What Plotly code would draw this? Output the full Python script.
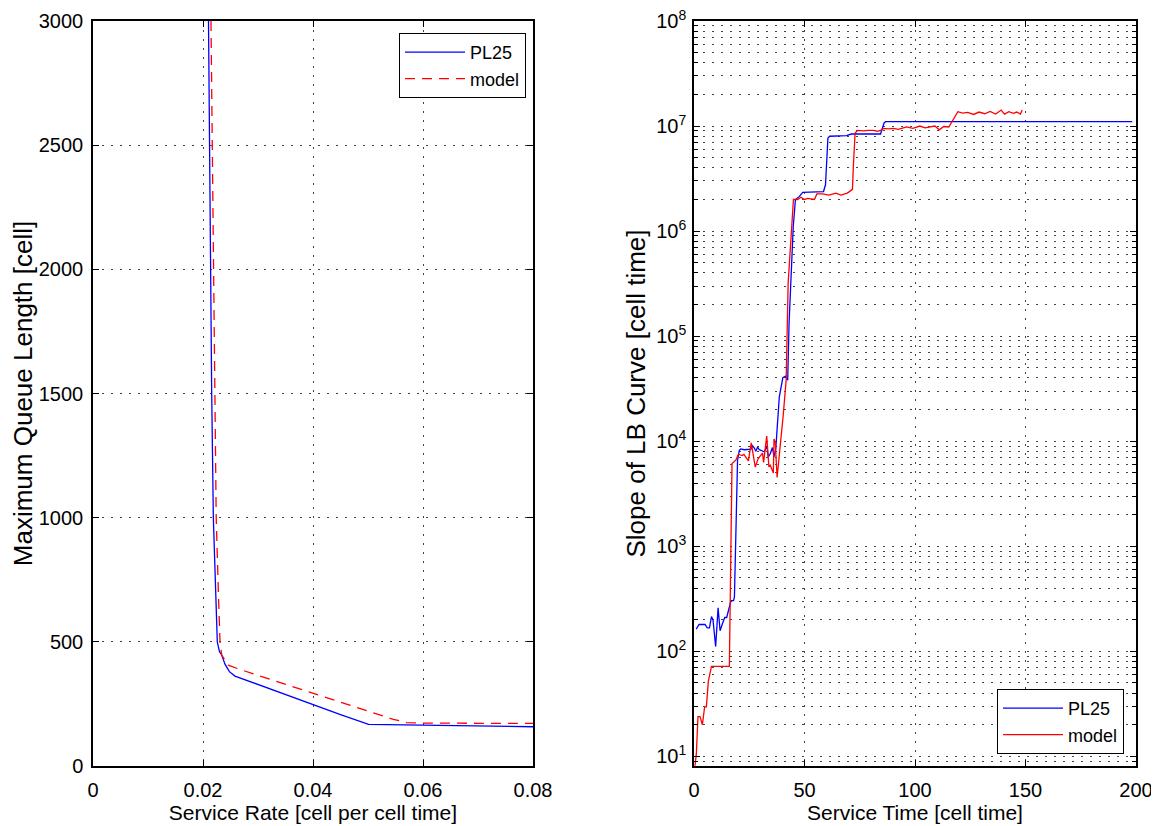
import plotly.graph_objects as go

# ---------------- Left panel data ----------------
pl25_rate = [0.0210, 0.02115, 0.0214, 0.02158, 0.02188, 0.02218, 0.02236, 0.0226, 0.0230, 0.0234,
             0.0240, 0.0248, 0.0258, 0.0300, 0.0350, 0.0400, 0.0450, 0.0501, 0.0600, 0.0700, 0.0800]
pl25_queue = [3000, 2500, 2000, 1500, 1000, 750, 628, 500, 460, 447,
              410, 380, 362, 328, 287, 246, 207, 168, 164, 161, 158]

model_rate = [0.02145, 0.0217, 0.0219, 0.0221, 0.0224, 0.0228, 0.0231, 0.0234, 0.0246, 0.0267,
              0.0300, 0.0350, 0.0400, 0.0450, 0.0500, 0.0546, 0.0570, 0.0600, 0.0700, 0.0800]
model_queue = [3000, 2500, 2000, 1500, 1000, 695, 495, 447, 406, 389,
               365, 329, 293, 257, 222, 188, 175, 173, 172, 172]

left_xticks = [0, 0.02, 0.04, 0.06, 0.08]
left_xlabels = ["0", "0.02", "0.04", "0.06", "0.08"]
left_yticks = [0, 500, 1000, 1500, 2000, 2500, 3000]

# ---------------- Right panel data ----------------
pl25_time = [1.0, 2.3, 5.0, 6.0, 7.0, 7.9, 8.6, 9.8, 10.9, 11.8, 12.9, 13.9, 14.8, 15.9, 16.7, 17.9,
             18.3, 19.7, 20.5, 21.2, 22.7, 25.8, 26.5, 27.3, 28.0, 28.8, 29.5, 30.3, 31.8, 33.0, 33.6,
             34.5, 35.5, 36.2, 37.0, 38.6, 40.2, 41.4, 42.4, 43.0, 44.3, 44.9, 45.9, 47.7, 49.2, 58.6,
             59.5, 60.6, 61.4, 69.0, 71.2, 84.4, 86.0, 86.7, 120.0, 160.0, 198.3]
pl25_slope = [163, 180, 180, 167, 167, 214, 199, 111, 259, 157, 184, 210, 210, 262, 304, 304,
              330, 6590, 8200, 8450, 8300, 8400, 9040, 8600, 8040, 8800, 8300, 8200, 7900, 9000, 7080,
              7600, 8700, 7100, 8500, 26500, 40200, 41700, 38000, 1.3e5, 6.6e5, 1.1e6, 2.0e6, 2.14e6, 2.34e6, 2.38e6,
              2.76e6, 7.7e6, 8.0e6, 8.1e6, 8.4e6, 8.4e6, 1.07e7, 1.1e7, 1.1e7, 1.1e7, 1.1e7]

model_time = [0.45, 1.05, 1.8, 2.7, 3.8, 4.8, 5.6, 6.5, 7.9, 16.0, 17.2, 18.2, 18.9, 20.1, 21.8,
              22.6, 23.7, 24.6, 25.9, 26.7, 27.7, 29.0, 30.0, 31.0, 31.5, 32.0, 32.9, 33.9, 34.5,
              35.9, 36.2, 36.8, 37.6, 40.3, 41.7, 42.6, 43.9, 45.0, 46.9, 48.4, 50.0, 51.5, 54.5,
              55.6, 58.2, 61.0, 64.2, 66.5, 69.4, 70.9, 71.7, 72.1, 72.9, 74.1, 76.7, 79.0, 81.2,
              83.0, 85.0, 85.6, 88.0, 90.2, 92.5, 94.7, 96.2, 99.0, 102.2, 104.5, 107.0, 109.0,
              111.0, 113.0, 115.3, 118.6, 119.4, 121.5, 123.9, 126.5, 129.0, 131.5, 134.0, 136.5,
              139.0, 140.5, 142.5, 144.5, 146.0, 147.7, 148.5]
model_slope = [8.15, 10.5, 23.9, 23.9, 20, 29.6, 29.6, 52, 71.8, 71.8, 6120, 6490, 6600, 7520, 7300,
               7500, 6900, 6500, 9640, 7400, 5690, 6800, 7200, 7700, 6300, 7700, 11170, 5690, 5900,
               4980, 10500, 9500, 4510, 17000, 38000, 320000, 9.6e5, 2.0e6, 2.0e6, 2.1e6, 2.0e6, 2.05e6, 2.0e6,
               2.26e6, 2.26e6, 2.2e6, 2.3e6, 2.2e6, 2.3e6, 2.4e6, 2.5e6, 4.1e6, 8.6e6, 9.1e6, 9.0e6, 9.1e6, 9.1e6,
               8.9e6, 9.2e6, 9.5e6, 9.4e6, 9.5e6, 9.3e6, 9.6e6, 9.8e6, 9.5e6, 1.0e7, 9.6e6, 9.9e6, 1.0e7,
               9.2e6, 9.9e6, 9.8e6, 1.32e7, 1.37e7, 1.33e7, 1.35e7, 1.29e7, 1.36e7, 1.31e7, 1.38e7, 1.3e7,
               1.42e7, 1.3e7, 1.37e7, 1.32e7, 1.36e7, 1.3e7, 1.42e7]

right_xticks = [0, 50, 100, 150, 200]
right_decades = [1, 2, 3, 4, 5, 6, 7, 8]

# ---------------- Figure ----------------
# The page body has an 8px default margin, so the figure is drawn 8px smaller
# and all layout pixel positions are shifted by that offset.
OX, OY = 8, 8
W, H = 1159 - OX, 826 - OY


def fx(px):
    return (px - OX) / W


def fy(py):
    return 1 - (py - OY) / H


FONT = "Liberation Sans, Arial, Helvetica, sans-serif"
TICK_SIZE = 20
XTITLE_SIZE = 21
YTITLE_SIZE = 26
LEGEND_SIZE = 18
GRID_DASH = "2px,7px"
GRID_COLOR = "#444444"

fig = go.Figure()

fig.add_trace(go.Scatter(x=pl25_rate, y=pl25_queue, mode="lines", name="PL25",
                         line=dict(color="#0000ff", width=1.3), xaxis="x", yaxis="y", legend="legend"))
fig.add_trace(go.Scatter(x=model_rate, y=model_queue, mode="lines", name="model",
                         line=dict(color="#ff0000", width=1.3, dash="10px,7px"), xaxis="x", yaxis="y",
                         legend="legend"))

fig.add_trace(go.Scatter(x=pl25_time, y=pl25_slope, mode="lines", name="PL25",
                         line=dict(color="#0000ff", width=1.3), xaxis="x2", yaxis="y2", legend="legend2"))
fig.add_trace(go.Scatter(x=model_time, y=model_slope, mode="lines", name="model",
                         line=dict(color="#ff0000", width=1.3), xaxis="x2", yaxis="y2", legend="legend2"))

common_axis = dict(
    showline=True, linecolor="black", linewidth=1.5, mirror="ticks",
    ticks="inside", ticklen=6, tickcolor="black", tickwidth=1,
    showgrid=True, gridcolor=GRID_COLOR, gridwidth=1, griddash=GRID_DASH,
    zeroline=False, automargin=False, ticklabeloverflow="allow",
    tickfont=dict(family=FONT, size=TICK_SIZE, color="black"),
)

minor_vals = [m * 10 ** d for d in range(0, 8) for m in range(2, 10)]

fig.update_layout(
    width=W, height=H,
    margin=dict(l=0, r=0, t=0, b=0),
    paper_bgcolor="white", plot_bgcolor="white",
    font=dict(family=FONT, size=TICK_SIZE, color="black"),
    xaxis=dict(domain=[fx(93), fx(533)], range=[0, 0.08], tickmode="array",
               tickvals=left_xticks, ticktext=left_xlabels, anchor="y", ticklabelstandoff=5,
               title=dict(text="Service Rate [cell per cell time]", standoff=2,
                          font=dict(family=FONT, size=XTITLE_SIZE)),
               **common_axis),
    yaxis=dict(domain=[fy(766), fy(21)], range=[0, 3000], tickmode="array",
               tickvals=left_yticks, anchor="x", ticklabelstandoff=4,
               title=dict(text="Maximum Queue Length [cell]", standoff=4,
                          font=dict(family=FONT, size=YTITLE_SIZE)),
               **common_axis),
    xaxis2=dict(domain=[fx(694), fx(1136)], range=[0, 200], tickmode="array",
                tickvals=right_xticks, anchor="y2", ticklabelstandoff=5,
                title=dict(text="Service Time [cell time]", standoff=2,
                           font=dict(family=FONT, size=XTITLE_SIZE)),
                **common_axis),
    yaxis2=dict(domain=[fy(766), fy(21)], type="log", anchor="x2",
                range=[0.9085, 8], tickmode="array", ticklabelstandoff=2,
                tickvals=[10 ** d for d in right_decades],
                ticktext=["10<sup>%d</sup>" % d for d in right_decades],
                title=dict(text="Slope of LB Curve [cell time]", standoff=3,
                           font=dict(family=FONT, size=YTITLE_SIZE)),
                minor=dict(tickmode="array", tickvals=minor_vals, ticks="inside", ticklen=4,
                           tickcolor="black", showgrid=True, gridcolor=GRID_COLOR,
                           griddash=GRID_DASH, gridwidth=1),
                **common_axis),
    legend=dict(x=fx(526), xanchor="right", y=fy(33), yanchor="top",
                bordercolor="black", borderwidth=1, bgcolor="white",
                font=dict(family=FONT, size=LEGEND_SIZE), itemwidth=60, tracegroupgap=0),
    legend2=dict(x=fx(1124), xanchor="right", y=fy(754), yanchor="bottom",
                 bordercolor="black", borderwidth=1, bgcolor="white",
                 font=dict(family=FONT, size=LEGEND_SIZE), itemwidth=60, tracegroupgap=0),
    showlegend=True,
)

fig.write_html("out.html")
